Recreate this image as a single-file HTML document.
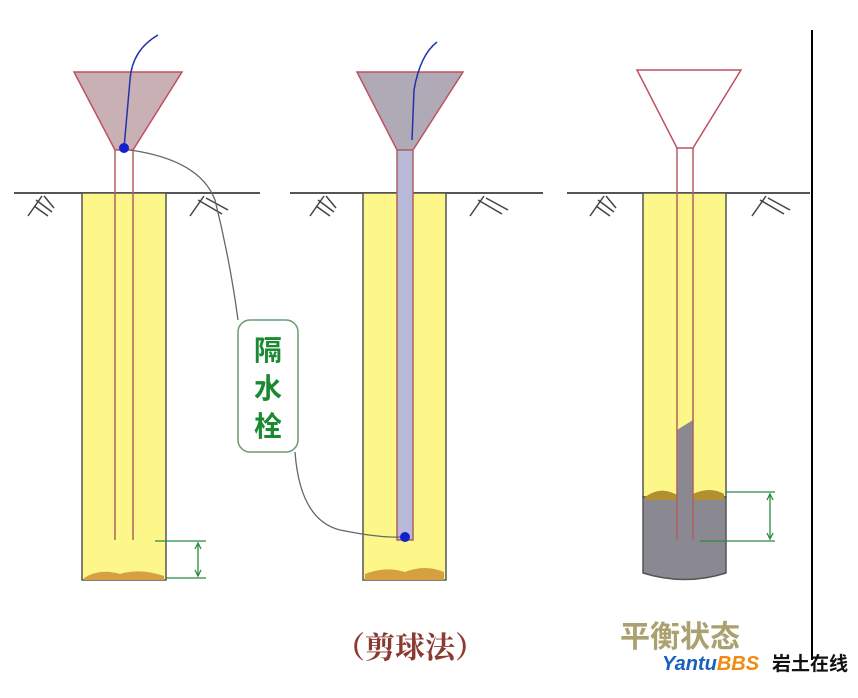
<!DOCTYPE html>
<html><head><meta charset="utf-8"><style>
html,body{margin:0;padding:0;background:#fff;}
svg{display:block;}
</style></head><body>
<svg width="858" height="698" viewBox="0 0 858 698" xmlns="http://www.w3.org/2000/svg">
<rect width="858" height="698" fill="#fff"/>
<g stroke="#555" stroke-width="2">
<line x1="14" y1="193" x2="260" y2="193"/>
<line x1="290" y1="193" x2="543" y2="193"/>
<line x1="567" y1="193" x2="810" y2="193"/>
</g>
<g stroke="#444" stroke-width="1.5" fill="none">
<path d="M28 216 L42 196 M34 206 L48 216 M36 200 L52 212 M44 196 L54 208"/>
<path d="M190 216 L204 196 M198 200 L222 214 M206 198 L228 210"/>
<path d="M310 216 L324 196 M316 206 L330 216 M318 200 L334 212 M326 196 L336 208"/>
<path d="M470 216 L484 196 M478 200 L502 214 M486 198 L508 210"/>
<path d="M590 216 L604 196 M596 206 L610 216 M598 200 L614 212 M606 196 L616 208"/>
<path d="M752 216 L766 196 M760 200 L784 214 M768 198 L790 210"/>
</g>
<!-- pile 1 -->
<rect x="82" y="193" width="84" height="387" fill="#fdf78a" stroke="#555" stroke-width="1.5"/>
<path d="M84 578 Q100 568 120 574 Q140 568 164 576 L164 580 L84 580Z" fill="#d4a040"/>
<polygon points="74,72 182,72 133,150 115,150" fill="#c9b0b4" stroke="#c05060" stroke-width="1.5"/>
<line x1="115" y1="150" x2="115" y2="540" stroke="#b06060" stroke-width="1.5"/>
<line x1="133" y1="150" x2="133" y2="540" stroke="#b06060" stroke-width="1.5"/>
<path d="M158 35 Q132 50 130 80 L124 148" stroke="#2233aa" stroke-width="1.5" fill="none"/>
<circle cx="124" cy="148" r="5" fill="#1020cc"/>
<g stroke="#2a8a40" stroke-width="1.3" fill="none">
<line x1="155" y1="541" x2="206" y2="541"/><line x1="166" y1="578" x2="206" y2="578"/>
<line x1="198" y1="543" x2="198" y2="576"/>
<path d="M195 549 L198 543 L201 549 M195 570 L198 576 L201 570"/>
</g>
<!-- pile 2 -->
<rect x="363" y="193" width="83" height="387" fill="#fdf78a" stroke="#555" stroke-width="1.5"/>
<path d="M365 574 Q385 566 405 572 Q425 564 444 572 L444 580 L365 580Z" fill="#d4a040"/>
<polygon points="357,72 463,72 413,150 397,150" fill="#b0aab6" stroke="#c05060" stroke-width="1.5"/>
<rect x="397" y="150" width="16" height="390" fill="#b8b8d8" stroke="#b06060" stroke-width="1.5"/>
<path d="M437 42 Q420 55 414 90 L412 140" stroke="#2233aa" stroke-width="1.5" fill="none"/>
<circle cx="405" cy="537" r="5" fill="#1020cc"/>
<!-- pile 3 -->
<rect x="643" y="193" width="83" height="304" fill="#fdf78a" stroke="#555" stroke-width="1.5"/>
<path d="M643 497 L726 497 L726 573 Q685 586 643 573 Z" fill="#8a8890" stroke="#555" stroke-width="1.5"/>
<path d="M645 497 Q660 486 675 494 L693 494 Q710 486 724 494 L724 500 L645 500Z" fill="#b09030"/>
<polygon points="637,70 741,70 693,148 677,148" fill="#fff" stroke="#c05060" stroke-width="1.5"/>
<path d="M677 430 L693 420 L693 540 L677 540Z" fill="#8a8890"/>
<line x1="677" y1="148" x2="677" y2="540" stroke="#b06060" stroke-width="1.5"/>
<line x1="693" y1="148" x2="693" y2="540" stroke="#b06060" stroke-width="1.5"/>
<g stroke="#2a8a40" stroke-width="1.3" fill="none">
<line x1="726" y1="492" x2="775" y2="492"/><line x1="700" y1="541" x2="775" y2="541"/>
<line x1="770" y1="494" x2="770" y2="539"/>
<path d="M767 500 L770 494 L773 500 M767 533 L770 539 L773 533"/>
</g>
<line x1="812" y1="30" x2="812" y2="660" stroke="#000" stroke-width="2"/>
<path d="M130 150 Q200 160 215 200 Q230 260 238 320" stroke="#666" stroke-width="1.3" fill="none"/>
<path d="M295 452 Q300 520 340 530 Q380 538 400 537" stroke="#666" stroke-width="1.3" fill="none"/>
<rect x="238" y="320" width="60" height="132" rx="12" fill="#fff" stroke="#6a9a70" stroke-width="1.5"/>
<g font-family="'Liberation Sans','Noto Sans CJK SC',sans-serif" font-size="28" font-weight="bold" fill="#1a8a30" text-anchor="middle">
<text x="268" y="360">隔</text><text x="268" y="398">水</text><text x="268" y="436">栓</text>
</g>
<text x="410" y="658" font-family="'Liberation Serif','Noto Serif CJK SC',serif" font-size="30" font-weight="bold" fill="#8a3a30" text-anchor="middle">（剪球法）</text>
<text x="680" y="647" font-family="'Liberation Sans','Noto Sans CJK SC',sans-serif" font-size="30" font-weight="bold" fill="#aaa070" text-anchor="middle">平衡状态</text>
<text x="662" y="670" font-family="'Liberation Sans',sans-serif" font-size="20" font-weight="bold" font-style="italic" fill="#1a60c0">Yantu<tspan fill="#f08a10">BBS</tspan></text>
<text x="772" y="670" font-family="'Liberation Sans','Noto Sans CJK SC',sans-serif" font-size="19" font-weight="bold" fill="#111">岩土在线</text>
</svg>
</body></html>
